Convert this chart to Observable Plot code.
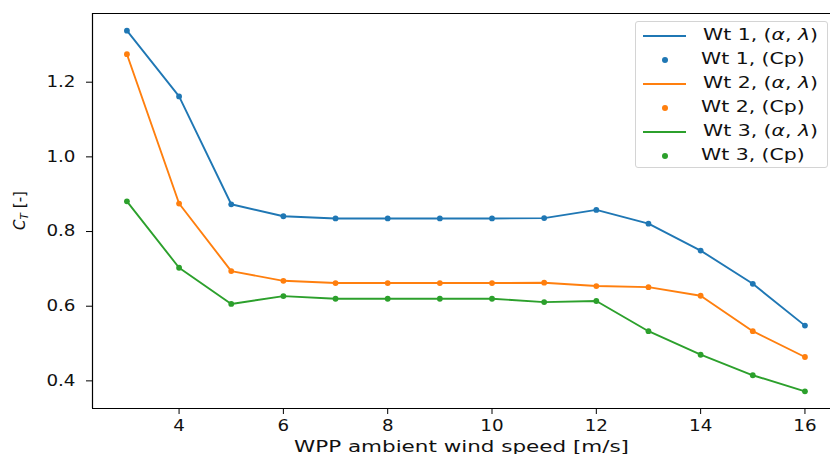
<!DOCTYPE html>
<html>
<head>
<meta charset="utf-8">
<script src="https://cdn.jsdelivr.net/npm/d3@7"></script>
<script src="https://cdn.jsdelivr.net/npm/@observablehq/plot@0.6"></script>
<style>
  html, body { margin: 0; padding: 0; background: #fff; }
  #wrap { position: relative; width: 830px; height: 454px; font-family: "DejaVu Sans", sans-serif; }
  #legend { position: absolute; left: 635px; top: 21px; width: 193px; height: 147px;
    border: 1px solid #d4d4d4; border-radius: 3px; background: rgba(255,255,255,0.85); box-sizing: border-box; }
  .row { position: absolute; left: 0; height: 24px; width: 100%; }
  .row .sw { position: absolute; left: 7px; width: 43px; top: 12px; height: 2px; }
  .row .dot { position: absolute; left: 26px; top: 10px; width: 6px; height: 6px; border-radius: 50%; }
  .row .lab { position: absolute; left: 67px; top: 3px; font-size: 15px; color: #111; white-space: nowrap;
    transform: scaleX(1.36); transform-origin: 0 50%; }
</style>
</head>
<body>
<div id="wrap"></div>
<script>
const windSpeed = [3, 4, 5, 6, 7, 8, 9, 10, 11, 12, 13, 14, 15, 16];
const wt1 = [1.338, 1.162, 0.873, 0.841, 0.835, 0.835, 0.835, 0.835, 0.836, 0.858, 0.821, 0.749, 0.660, 0.548];
const wt2 = [1.275, 0.875, 0.694, 0.668, 0.662, 0.662, 0.662, 0.662, 0.663, 0.654, 0.651, 0.628, 0.533, 0.464];
const wt3 = [0.881, 0.703, 0.606, 0.627, 0.620, 0.620, 0.620, 0.620, 0.611, 0.614, 0.533, 0.470, 0.415, 0.372];
const seriesNames = ["Wt 1", "Wt 2", "Wt 3"];
const colors = ["#1f77b4", "#ff7f0e", "#2ca02c"];
const xTicks = [4, 6, 8, 10, 12, 14, 16];
const yTicks = [0.4, 0.6, 0.8, 1.0, 1.2];
const xDomain = [2.34, 16.49];
const yDomain = [0.326, 1.384];

const rows = [];
[wt1, wt2, wt3].forEach((vals, i) => {
  vals.forEach((v, j) => rows.push({series: seriesNames[i], x: windSpeed[j], y: v}));
});

const chart = Plot.plot({
  width: 830,
  height: 454,
  marginLeft: 92,
  marginRight: 0,
  marginTop: 13,
  marginBottom: 46,
  style: {fontFamily: "DejaVu Sans, sans-serif", fontSize: "15px", color: "#111", background: "#fff"},
  x: {domain: xDomain},
  y: {domain: yDomain},
  color: {domain: seriesNames, range: colors},
  marks: [
    Plot.line(rows, {x: "x", y: "y", z: "series", stroke: "series", strokeWidth: 1.9}),
    Plot.dot(rows, {x: "x", y: "y", fill: "series", r: 2.9}),
    Plot.ruleY([yDomain[0], yDomain[1]], {stroke: "#000", strokeWidth: 1.2}),
    Plot.ruleX([xDomain[0]], {stroke: "#000", strokeWidth: 1.2}),
    Plot.axisX({ticks: xTicks, tickSize: 6, tickPadding: 6, label: "WPP ambient wind speed [m/s]",
      labelAnchor: "center", labelArrow: "none", labelOffset: 43, tickFormat: d => String(d),
      stroke: "#000", fill: "#111"}),
    Plot.axisY({ticks: yTicks, tickSize: 6, tickPadding: 11, label: null,
      tickFormat: d3.format(".1f"), stroke: "#000", fill: "#111"})
  ]
});

const wrap = document.getElementById("wrap");
wrap.appendChild(chart);

const svg = d3.select(chart);
// stretch tick labels horizontally to match reference
svg.selectAll('g[aria-label="x-axis tick label"] text, g[aria-label="y-axis tick label"] text').each(function() {
  const w = this.getComputedTextLength();
  this.setAttribute("textLength", (w * 1.22).toFixed(1));
  this.setAttribute("lengthAdjust", "spacingAndGlyphs");
});
svg.selectAll('g[aria-label="x-axis label"] text').each(function() {
  this.style.fontSize = "16px";
  this.setAttribute("textLength", "335");
  this.setAttribute("lengthAdjust", "spacingAndGlyphs");
});

// y label with subscript
const yl = svg.append("text")
  .attr("transform", `translate(25, 210.5) rotate(-90)`)
  .attr("text-anchor", "middle")
  .attr("fill", "#111")
  .style("font-family", "DejaVu Sans, sans-serif")
  .style("font-size", "15px");
yl.append("tspan").attr("font-style", "italic").text("C");
yl.append("tspan").attr("font-style", "italic").attr("font-size", "10.5px").attr("dy", "3").text("T");
yl.append("tspan").attr("dy", "-3").text(" [-]");

// legend
const legend = document.createElement("div");
legend.id = "legend";
const items = [];
seriesNames.forEach((n, i) => {
  items.push({label: n + ", (α, λ)", color: colors[i], kind: "line"});
  items.push({label: n + ", (Cp)", color: colors[i], kind: "dot"});
});
items.forEach((it, k) => {
  const r = document.createElement("div");
  r.className = "row";
  r.style.top = (1 + k * 24) + "px";
  const s = document.createElement("div");
  s.className = it.kind === "line" ? "sw" : "dot";
  s.style.background = it.color;
  r.appendChild(s);
  const l = document.createElement("div");
  l.className = "lab";
  if (it.kind === "line") {
    l.innerHTML = it.label.replace("(α, λ)", "(<i>α</i>, <i>λ</i>)");
  } else {
    l.textContent = it.label;
    l.style.left = "65px";
  }
  r.appendChild(l);
  legend.appendChild(r);
});
wrap.appendChild(legend);
</script>
</body>
</html>
